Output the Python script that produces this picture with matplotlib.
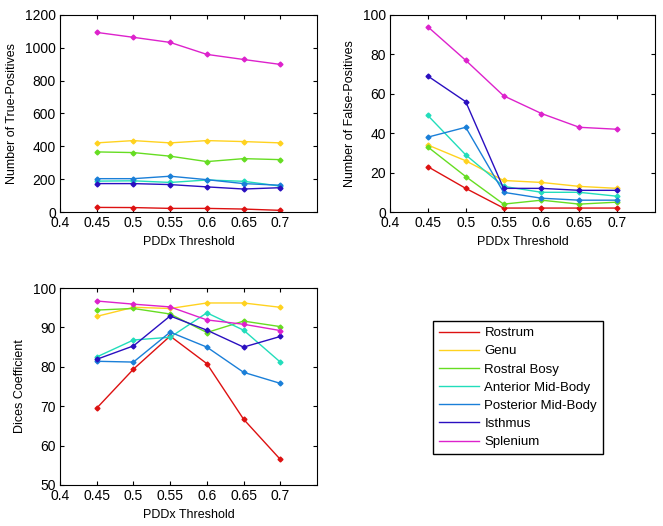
import numpy as np
import matplotlib
matplotlib.use('Agg')
import matplotlib.pyplot as plt

plt.rcParams['font.family'] = ['Liberation Sans', 'DejaVu Sans']
plt.rcParams['font.size'] = 9

# --- Data ---
thresholds = [0.45, 0.5, 0.55, 0.6, 0.65, 0.7]
names = ['Rostrum', 'Genu', 'Rostral Bosy', 'Anterior Mid-Body',
         'Posterior Mid-Body', 'Isthmus', 'Splenium']
colors = ['#dd1111', '#ffd21f', '#66dd22', '#22ddbb', '#1a7fd8', '#2a0fc0', '#dd22cc']

true_pos = [
    [28, 27, 22, 22, 18, 10],
    [421, 435, 421, 435, 429, 421],
    [366, 362, 340, 307, 325, 319],
    [188, 190, 180, 195, 187, 158],
    [203, 203, 218, 197, 173, 163],
    [173, 173, 167, 153, 140, 148],
    [1094, 1064, 1033, 960, 929, 899],
]
false_pos = [
    [23, 12, 2, 2, 2, 2],
    [34, 26, 16, 15, 13, 12],
    [33, 18, 4, 6, 4, 5],
    [49, 29, 13, 10, 10, 8],
    [38, 43, 10, 7, 6, 6],
    [69, 56, 12, 12, 11, 11],
    [94, 77, 59, 50, 43, 42],
]
dice = [
    [69.5, 79.4, 87.8, 80.8, 66.7, 56.5],
    [92.8, 95.1, 94.8, 96.2, 96.2, 95.1],
    [94.4, 94.8, 93.4, 88.7, 91.6, 90.2],
    [82.5, 86.8, 87.5, 93.7, 89.3, 81.2],
    [81.4, 81.2, 88.8, 85.0, 78.6, 75.8],
    [81.9, 85.3, 92.9, 89.3, 85.0, 87.7],
    [96.7, 95.9, 95.2, 91.9, 90.8, 89.2],
]

W, H = 663, 526
fig = plt.figure(figsize=(W / 100, H / 100), dpi=100)

def px_axes(l, t, r, b):
    return fig.add_axes([l / W, 1 - b / H, (r - l) / W, (b - t) / H])

def draw(ax, data, ylim, yticks, ylabel):
    for vals, c, n in zip(data, colors, names):
        ax.plot(thresholds, vals, color=c, lw=1, marker='D', ms=2.5, label=n)
    ax.set_xlim(0.4, 0.75)
    ax.set_xticks([0.4, 0.45, 0.5, 0.55, 0.6, 0.65, 0.7])
    ax.set_xticklabels(['0.4', '0.45', '0.5', '0.55', '0.6', '0.65', '0.7'])
    ax.set_ylim(*ylim)
    ax.set_yticks(yticks)
    ax.set_xlabel('PDDx Threshold', labelpad=4)
    ax.set_ylabel(ylabel, labelpad=5)
    ax.tick_params(direction='in', top=True, right=True, length=3, labelsize=10, pad=3)
    for s in ax.spines.values():
        s.set_linewidth(0.8)

ax1 = px_axes(60, 15, 317, 212)
draw(ax1, true_pos, (0, 1200), range(0, 1201, 200), 'Number of True-Positives')

ax2 = px_axes(390, 15, 655, 212)
draw(ax2, false_pos, (0, 100), range(0, 101, 20), 'Number of False-Positives')

ax3 = px_axes(60, 288, 317, 485)
draw(ax3, dice, (50, 100), range(50, 101, 10), 'Dices Coefficient')

lines = [plt.Line2D([], [], color=c, lw=1) for c in colors]
fig.legend(lines, names, loc='upper left',
           bbox_to_anchor=(433 / W, 1 - 321 / H), fancybox=False,
           edgecolor='black', framealpha=1, fontsize=9.5,
           handlelength=3.0, handletextpad=0.45, labelspacing=0.45,
           borderpad=0.45, borderaxespad=0)

fig.savefig('out.png', dpi=100)
